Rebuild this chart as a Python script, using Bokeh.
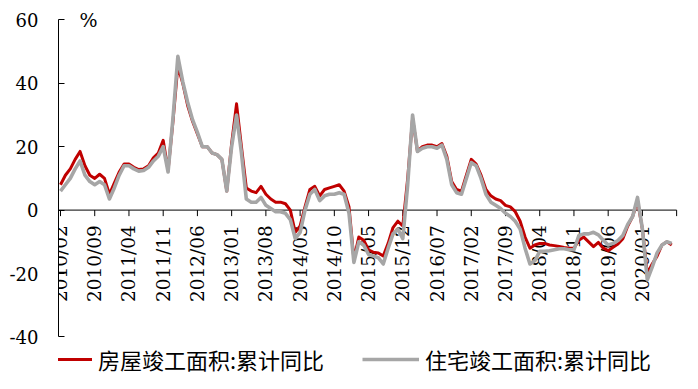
import math
import pandas as pd
from bokeh.plotting import figure
from bokeh.models import FixedTicker, Range1d, Legend, LegendItem, Label
from bokeh.core.properties import value
from bokeh.embed import file_html
from bokeh.resources import INLINE

# ---------------- data ----------------
months = list(pd.period_range("2010-02", periods=126, freq="M").strftime("%Y/%m"))

house = [8, 11, 13, 16, 18.5, 14, 11, 10, 11.3, 10, 5, 8.5, 12, 14.5, 14.5,
         13.5, 12.8, 13, 14, 16.5, 18, 22, 12.5, 28, 45.5, 40, 33, 28, 24, 20,
         20, 18, 17.5, 16, 6, 21, 33.5, 20, 7, 6, 5.5, 7.5, 5, 3.5, 2.5,
         2.5, 2, 0, -7, -5, 1, 6.5, 7.5, 4.5, 6.5, 7, 7.5, 8, 6, 1,
         -15.5, -8.5, -9.5, -12.5, -13.3, -13.5, -14.5, -10.5, -5.5, -3.5, -5, 10, 29, 18.5, 20,
         20.5, 20.5, 20, 21, 17, 9, 6.5, 6, 11, 16, 14.5, 11, 6.5, 4.5, 3.5,
         3, 1.5, 1, -0.5, -3.5, -8.5, -12, -11, -10.5, -10.5, -11, -11.2, -11.5, -11.8, -12,
         -12, -9.5, -8.5, -10, -11.5, -10.2, -12, -12.8, -11.7, -10.7, -9, -5, -2, 3, -6,
         -20, -17, -14.5, -11, -10, -11]

resid = [6, 8, 10, 13, 15.5, 11, 9, 8, 9, 8, 3.5, 7, 11, 14, 14,
         13, 12.3, 12.5, 13.5, 15.5, 17, 20, 12, 29, 48.5, 40.5, 34, 28.5, 24.5, 20,
         20, 18, 17.5, 16, 6, 20, 30, 18, 3.5, 2.5, 2.5, 4, 1.5, 0.5, -0.5,
         -0.5, -1, -3, -9, -7, 0, 5, 6.5, 3, 4.5, 5, 5, 5.5, 5, -1,
         -16.5, -10, -11, -14, -14.5, -15, -17, -12, -7.5, -6, -9, 8, 30, 18.5, 19.5,
         20, 20, 19.5, 20.5, 16, 8, 5.5, 5, 10, 15, 14, 10, 5, 2.5, 1.5,
         0.5, -1, -2, -3.5, -6, -12, -17, -16, -13, -13, -12.8, -12.5, -12.2, -12.2, -12.5,
         -12.5, -8, -7.5, -7.5, -7, -7.8, -9.5, -11, -10.5, -9.6, -8, -4.5, -2, 4, -6,
         -22, -18, -13.5, -11, -10, -10.5]

tick_labels = ["2010/02", "2010/09", "2011/04", "2011/11", "2012/06", "2013/01",
               "2013/08", "2014/03", "2014/10", "2015/05", "2015/12", "2016/07",
               "2017/02", "2017/09", "2018/04", "2018/11", "2019/06", "2020/01"]
y_ticks = [-40, -20, 0, 20, 40, 60]

name_house = "房屋竣工面积:累计同比"
name_resid = "住宅竣工面积:累计同比"

# ---------------- layout ----------------
W, H = 698, 389
LEFT = 58
PX_MONTH = 4.89
PX_UNIT = 3.17
x_start = -2 / PX_MONTH
x_end = x_start + (W - LEFT) / PX_MONTH
y_end = 60 + 19.3 / PX_UNIT
y_start = -40 - (H - 336.5) / PX_UNIT

SERIF = "DejaVu Serif"
CJK = "Noto Sans CJK SC"

p = figure(width=W, height=H, output_backend="svg", toolbar_location=None,
           x_range=Range1d(x_start, x_end), y_range=Range1d(y_start, y_end),
           x_axis_location=None, min_border_left=LEFT, min_border_right=0,
           min_border_top=0, min_border_bottom=0)
p.outline_line_color = None
p.grid.visible = False
p.background_fill_color = "white"
p.border_fill_color = "white"

ax = p.yaxis[0]
ax.ticker = FixedTicker(ticks=y_ticks)
ax.bounds = (-40, 60)
ax.major_label_overrides = {t: str(t) for t in y_ticks}
ax.major_tick_in = 6
ax.major_tick_out = 0
ax.minor_tick_line_color = None
ax.axis_line_color = "black"
ax.major_tick_line_color = "black"
ax.major_label_standoff = 20
ax.major_label_text_font = SERIF
ax.major_label_text_font_size = "18px"
ax.major_label_text_color = "black"

xs = list(range(len(months)))

# horizontal zero axis with ticks and rotated labels
n = len(months)
p.segment(x0=[x_start], y0=[0], x1=[n], y1=[0], line_color="black", line_width=1)
tick_idx = [months.index(t) for t in tick_labels] + [n]
p.segment(x0=tick_idx, y0=[0] * len(tick_idx), x1=tick_idx,
          y1=[-6 / PX_UNIT] * len(tick_idx), line_color="black", line_width=1)
p.text(x=tick_idx[:-1], y=[0] * len(tick_labels), text=tick_labels,
       angle=math.pi / 2, text_align="right", text_baseline="middle",
       y_offset=15, text_font=value(SERIF), text_font_size="18.5px", text_color="black")

r1 = p.line(xs, house, line_color="#C00000", line_width=3, line_join="round")
r2 = p.line(xs, resid, line_color="#A6A6A6", line_width=3.6, line_join="round")

p.add_layout(Label(x=(79 - 60) / PX_MONTH, y=60, text="%", text_baseline="middle",
                   text_font=SERIF, text_font_size="19px", text_color="black"))

def make_legend(label, r, loc):
    return Legend(items=[LegendItem(label=label, renderers=[r])], location=loc,
                  orientation="horizontal", border_line_color=None,
                  background_fill_alpha=0, padding=0, margin=0, spacing=0,
                  glyph_width=57, glyph_height=24, label_standoff=6,
                  label_text_font=CJK, label_text_font_size="22px",
                  label_text_color="black")

p.add_layout(make_legend(name_house, r1, (35 - LEFT, 14)))
p.add_layout(make_legend(name_resid, r2, (362 - LEFT, 14)))

open("out.html", "w").write(file_html(p, INLINE))
